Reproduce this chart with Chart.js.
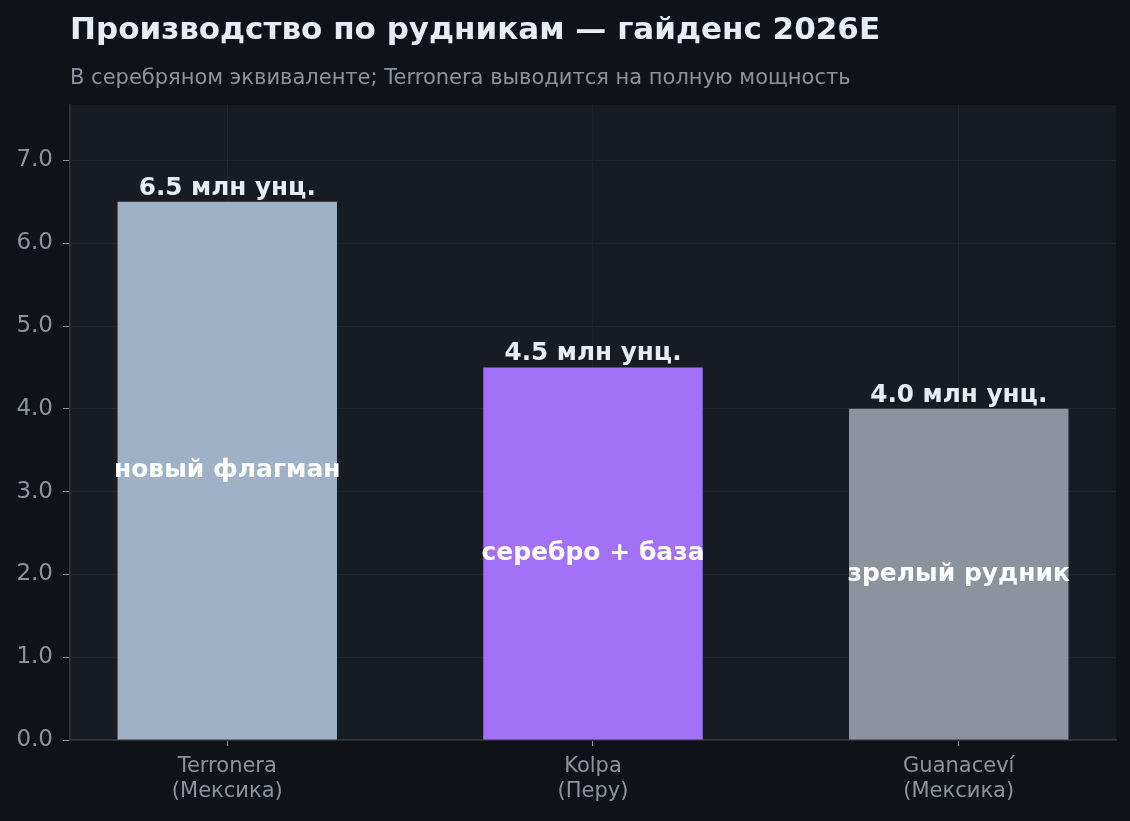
<!DOCTYPE html>
<html>
<head>
<meta charset="utf-8">
<script src="https://cdn.jsdelivr.net/npm/chart.js@4.4.1/dist/chart.umd.min.js"></script>
<style>
html,body{margin:0;padding:0;background:#0d1117;}
#wrap{width:1130px;height:821px;position:relative;}
canvas{display:block;}
</style>
</head>
<body>
<div id="wrap"><canvas id="c" width="1130" height="821"></canvas></div>
<script>
const categories = [["Terronera", "(Мексика)"], ["Kolpa", "(Перу)"], ["Guanaceví", "(Мексика)"]];
const production = [6.5, 4.5, 4.0];
const valueLabels = ["6.5 млн унц.", "4.5 млн унц.", "4.0 млн унц."];
const innerLabels = ["новый флагман", "серебро + база", "зрелый рудник"];
const barColors = ["#9fb1c7", "#a371f7", "#8b939e"];
const titleText = "Производство по рудникам — гайденс 2026E";
const subtitleText = "В серебряном эквиваленте; Terronera выводится на полную мощность";

const FONT = "'DejaVu Sans', sans-serif";

const bgPlugin = {
  id: 'bg',
  beforeDraw(chart) {
    const {ctx, chartArea: a} = chart;
    ctx.save();
    ctx.fillStyle = '#0f1318';
    ctx.fillRect(0, 0, chart.width, chart.height);
    ctx.fillStyle = '#171b22';
    ctx.fillRect(a.left, a.top, a.right - a.left, a.bottom - a.top);
    ctx.fillStyle = '#e6edf3';
    ctx.font = "bold 31px " + FONT;
    ctx.textBaseline = 'alphabetic';
    ctx.textAlign = 'left';
    ctx.fillText(titleText, a.left, 39);
    ctx.fillStyle = '#8b949e';
    ctx.font = "21px " + FONT;
    ctx.fillText(subtitleText, a.left, 84);
    ctx.restore();
  }
};

const labelPlugin = {
  id: 'labels',
  afterDatasetsDraw(chart) {
    const {ctx} = chart;
    const meta = chart.getDatasetMeta(0);
    const yScale = chart.scales.y;
    ctx.save();
    ctx.textAlign = 'center';
    meta.data.forEach((bar, i) => {
      ctx.font = "bold 24.7px " + FONT;
      ctx.fillStyle = '#e6edf3';
      ctx.textBaseline = 'alphabetic';
      ctx.fillText(valueLabels[i], bar.x, bar.y - 7);
      ctx.font = "bold 25px " + FONT;
      ctx.fillStyle = '#ffffff';
      ctx.textBaseline = 'middle';
      ctx.fillText(innerLabels[i], bar.x, yScale.getPixelForValue(production[i] / 2));
    });
    ctx.restore();
  }
};

new Chart(document.getElementById('c'), {
  type: 'bar',
  data: {
    datasets: [{
      data: production.map((v, i) => ({x: i, y: v})),
      backgroundColor: barColors,
      borderWidth: 0,
      categoryPercentage: 1.0,
      barPercentage: 0.6
    }]
  },
  options: {
    responsive: false,
    animation: false,
    devicePixelRatio: 1,
    layout: {padding: {left: 0, right: 14, top: 105, bottom: 0}},
    plugins: {legend: {display: false}, tooltip: {enabled: false}, title: {display: false}},
    scales: {
      x: {
        type: 'linear',
        min: -0.43, max: 2.43,
        offset: false,
        grid: {display: true, offset: false, color: '#21262d', tickColor: '#8b949e', tickLength: 6, lineWidth: 1},
        border: {color: '#30363d', width: 1.5},
        ticks: {stepSize: 1, includeBounds: false, color: '#8b949e',
          font: {family: FONT, size: 21, lineHeight: 1.2}, padding: 8,
          callback: v => categories[v] || ''},
        afterFit(s) { s.height = 81; }
      },
      y: {
        min: 0, max: 7.67,
        grid: {color: '#21262d', tickColor: '#8b949e', tickLength: 7, lineWidth: 1},
        border: {color: '#30363d', width: 1.5},
        ticks: {stepSize: 1, includeBounds: false, color: '#8b949e', font: {family: FONT, size: 23}, padding: 10,
          callback: v => Number(v).toFixed(1)},
        afterFit(s) { s.width = 70; }
      }
    }
  },
  plugins: [bgPlugin, labelPlugin]
});
</script>
</body>
</html>
